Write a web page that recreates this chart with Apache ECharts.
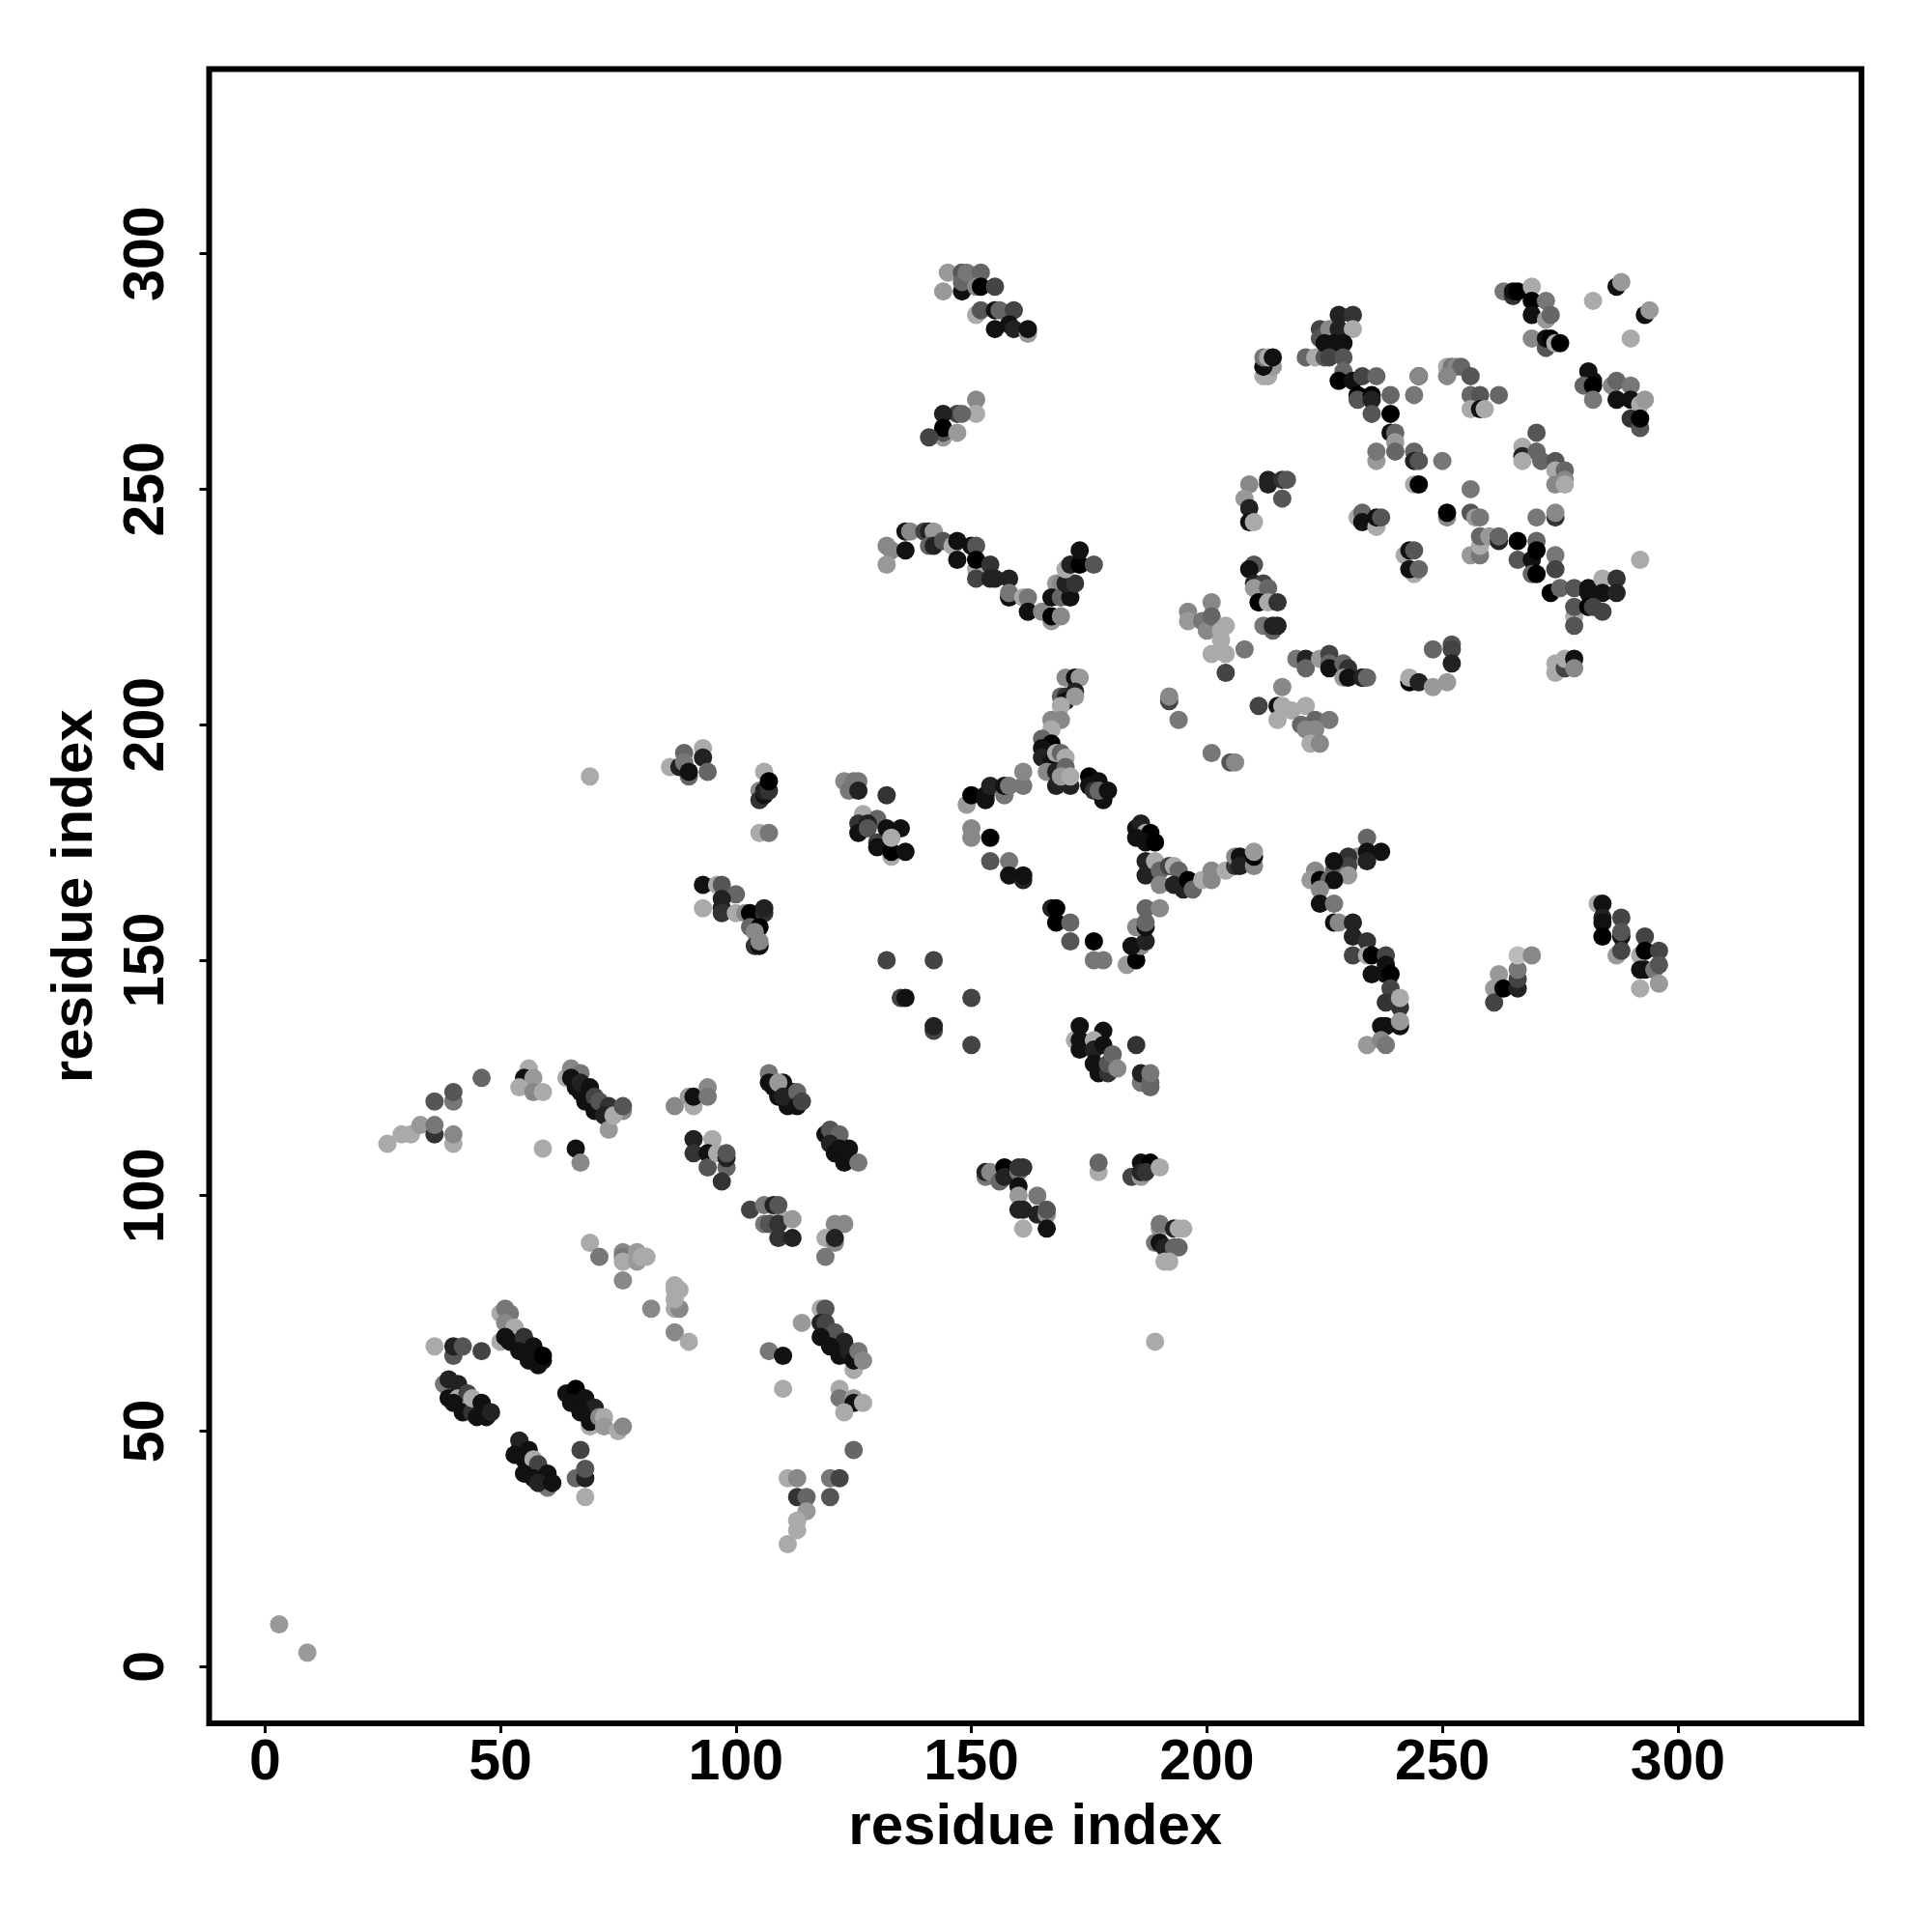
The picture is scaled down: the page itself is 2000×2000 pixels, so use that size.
<!DOCTYPE html>
<html><head><meta charset="utf-8">
<style>html,body{margin:0;padding:0;background:#fff}#c{width:2000px;height:2000px}</style>
<script src="https://cdn.jsdelivr.net/npm/echarts@6/dist/echarts.min.js"></script>
</head><body><div id="c"></div>
<script>
// each triple: residue i, residue j, shade level (0 = black ... 11 = light grey)
const tickValues = [0, 50, 100, 150, 200, 250, 300];
const axisTitle = 'residue index';
const denseStrands = [[52,71,1],[53,70,1],[54,69,1],[55,68,1],[56,67,1],[57,66,1],[58,65,1],[59,65,1],[39,59,1],[40,58,1],[41,56,1],[42,56,1],[43,55,1],[44,55,1],[45,55,1],[46,54,1],[65,58,1],[66,57,1],[67,56,1],[68,55,1],[69,54,1],[70,53,1],[54,46,1],[55,46,1],[55,44,1],[56,43,1],[57,42,1],[58,41,1],[59,40,1],[66,125,1],[67,122,1],[68,122,1],[69,121,1],[70,120,1],[71,118,1],[72,118,1],[108,123,1],[109,122,1],[110,122,1],[111,121,1],[112,122,1],[111,119,1],[120,112,1],[121,112,1],[122,111,1],[123,109,1],[119,72,1],[120,70,1],[121,69,1],[122,68,1],[123,67,1],[124,66,1]];
const isolated = [[3,9,9],[9,3,9],[69,189,10],[189,69,10],[292,235,10]];
const arcLeft = [[26,111,10],[29,113,10],[31,113,10],[33,115,9],[36,113,3],[36,115,7],[36,120,5],[40,111,10],[40,113,8],[40,120,7],[40,122,5],[46,125,6],[56,127,10],[55,125,1],[57,125,9],[54,123,10],[57,122,8],[59,122,10],[59,110,10],[66,110,1],[67,107,8]];
const strand64 = [[64,125,10],[65,127,8],[67,126,7],[65,125,1],[66,123,1],[67,124,2],[69,123,1],[68,120,1],[70,121,4],[70,118,1],[71,120,5],[76,118,8],[73,119,3],[72,117,2],[73,114,9],[74,117,10],[76,119,5]];
const group90 = [[87,119,8],[90,121,9],[91,119,10],[91,121,1],[94,123,8],[94,121,7],[91,112,2],[95,112,10],[91,109,3],[94,109,1],[94,106,5],[98,106,6],[97,103,3],[96,109,10],[98,108,2],[98,109,5]];
const strand106 = [[107,126,7],[107,124,1],[110,124,1],[109,121,1],[109,124,9],[112,120,1],[110,121,2],[113,122,6],[113,119,1],[114,120,4],[119,113,1],[120,114,5],[122,113,6],[120,111,2],[121,109,1],[122,110,1],[124,110,1],[123,107,1],[126,107,7]];
const group100 = [[103,97,4],[106,98,7],[109,96,10],[108,98,2],[109,98,5],[106,94,7],[107,94,5],[109,94,3],[112,95,9],[109,91,3],[112,91,2],[121,94,8],[123,94,8],[119,91,10],[121,90,8],[121,91,2],[119,87,7]];
const centreGrey = [[69,90,10],[71,87,7],[76,88,8],[76,87,7],[76,86,10],[76,82,8],[79,88,9],[79,86,9],[80,87,10],[81,87,10],[82,76,8],[87,81,10],[87,80,10],[88,80,10],[87,76,10],[88,76,8],[87,78,10],[87,71,8],[90,69,10]];
const strand50 = [[50,75,10],[51,76,7],[52,75,7],[51,73,8],[53,72,10],[50,69,10],[51,70,1],[52,69,1],[55,70,3],[54,67,1],[57,68,1],[56,65,1],[58,64,1],[59,66,0],[36,68,10],[40,66,5],[40,68,2],[42,68,5],[46,67,4]];
const strand38 = [[38,60,7],[39,61,2],[41,60,2],[39,57,1],[41,57,10],[43,58,4],[40,56,1],[42,54,1],[44,54,3],[44,57,10],[46,56,1],[45,53,1],[47,53,1],[48,54,2]];
const strand64low = [[64,58,1],[66,59,0],[68,57,1],[65,56,1],[70,55,2],[67,54,1],[69,51,10],[69,52,1],[71,53,8],[72,53,10],[72,51,9],[75,50,10],[76,51,8]];
const strand54 = [[54,48,2],[53,45,1],[56,46,1],[57,44,10],[58,43,4],[55,41,1],[57,40,1],[60,38,7],[60,41,1],[58,39,2],[61,39,1],[67,46,4],[66,40,6],[68,40,2],[68,42,5],[68,36,10]];
const strand115 = [[107,67,7],[110,66,1],[110,59,10],[114,73,9],[118,76,10],[119,76,5],[118,73,2],[119,73,4],[121,71,5],[118,70,1],[123,69,2],[120,68,1],[122,66,1],[124,67,2],[125,63,10],[125,65,1],[126,67,7],[127,65,8]];
const tail120 = [[122,59,10],[122,57,7],[125,57,9],[125,56,1],[127,56,10],[123,54,10],[125,46,6],[111,40,10],[113,40,8],[120,40,7],[122,40,4],[113,36,3],[115,36,6],[120,36,5],[115,33,9],[113,31,10],[113,29,10],[111,26,10]];
const scatter135 = [[132,150,4],[142,150,4],[135,142,4],[136,142,1],[150,142,4],[142,135,4],[142,136,2],[150,132,4]];
const group175 = [[172,133,10],[173,136,1],[178,135,1],[173,133,1],[173,131,1],[176,133,10],[176,131,2],[178,132,1],[176,128,1],[177,126,1],[179,126,3],[179,128,5],[180,130,6],[181,127,8],[185,132,3],[186,124,7],[188,123,6],[186,126,2],[188,124,6],[188,126,7]];
const group155 = [[153,104,7],[153,105,2],[154,105,8],[156,103,6],[157,106,0],[157,104,2],[160,105,7],[160,106,3],[161,106,3],[160,102,1],[160,100,9],[164,100,7],[160,97,2],[161,97,2],[164,96,2],[166,96,8],[166,97,5],[161,93,10],[166,93,1]];
const group185 = [[177,105,10],[177,107,6],[184,104,4],[186,104,9],[186,107,1],[186,105,2],[188,107,0],[187,105,3],[190,106,10],[190,93,9],[190,94,7],[193,93,2],[194,93,10],[195,93,10],[189,90,7],[190,90,1],[191,89,2],[193,89,6],[194,89,6],[191,86,10],[192,86,10]];
const group88 = [[86,191,10],[89,194,6],[88,191,2],[89,192,7],[90,189,6],[90,190,1],[93,195,10],[93,193,2],[94,190,6],[106,190,10],[105,186,8],[105,184,3],[106,185,1],[106,186,2],[107,186,3],[107,188,0],[105,177,10],[107,177,7]];
const group95 = [[93,166,1],[96,166,10],[97,166,5],[100,164,6],[97,163,2],[93,161,10],[97,161,2],[97,160,3],[100,160,10],[102,160,8],[103,160,0],[106,160,3],[106,161,2],[103,157,6],[105,157,0],[104,156,8],[104,153,3],[105,153,1],[105,154,8]];
const group125 = [[123,188,8],[125,188,7],[126,188,7],[124,186,7],[126,186,2],[132,185,3],[127,181,10],[126,179,3],[130,180,6],[128,179,2],[126,177,1],[128,178,5],[130,175,4],[132,178,1],[135,178,1],[130,174,1],[133,172,10],[133,173,0],[133,176,10],[136,173,1]];
const loopLeft = [[150,178,8],[150,176,8],[154,176,0],[154,171,5],[158,171,7],[158,168,1],[161,167,2],[161,168,1],[167,161,2],[168,161,0],[168,158,0],[171,158,6],[171,154,5],[176,154,0],[176,150,7],[178,150,7],[183,149,9],[185,150,0],[186,153,8],[184,153,1],[187,154,2],[185,157,8],[187,157,1],[187,158,6],[187,161,6],[190,161,8]];
const loopTop = [[149,183,9],[150,185,0],[153,184,1],[153,185,1],[154,187,2],[157,185,7],[157,187,1],[158,187,7],[161,187,7],[161,190,8]];
const stem170 = [[170,210,8],[172,210,1],[173,210,9],[169,206,6],[170,206,3],[172,207,2],[170,205,1],[172,206,9],[169,204,10],[167,201,8],[169,201,8],[167,199,10],[165,197,6],[167,196,0],[165,195,1],[165,193,2],[167,192,1],[168,194,10],[169,194,6],[170,193,10],[166,190,8],[168,190,2],[168,187,2],[171,187,2],[170,191,6],[169,189,9],[171,189,10]];
const strand177 = [[175,189,0],[177,188,1],[175,187,1],[176,186,3],[178,184,1],[177,186,6],[179,186,1],[185,178,1],[186,179,2],[187,177,10],[188,177,0],[185,176,1],[187,175,1],[189,175,0]];
const row190 = [[187,171,2],[187,168,2],[189,171,10],[190,169,6],[190,166,8],[192,170,4],[193,170,10],[194,169,6],[193,166,2],[195,165,2],[196,167,0],[197,165,6],[199,167,10],[201,169,8],[201,167,8],[204,169,10],[206,170,3],[206,172,8],[207,172,1],[207,170,2],[210,170,8],[210,172,0],[210,173,9]];
const strand225 = [[234,176,6],[232,172,9],[234,173,1],[237,173,1],[234,171,2],[230,172,3],[230,170,4],[227,169,6],[227,171,1],[230,168,9],[223,169,8],[222,167,9],[224,167,0],[226,167,6],[227,167,1],[224,165,8],[224,162,1],[227,162,7],[227,158,1],[228,158,8],[231,158,2],[231,155,2],[234,154,3],[231,151,4],[234,151,10],[235,151,0],[238,151,4],[235,147,1],[238,149,1],[238,147,1],[239,147,0],[239,144,4],[238,141,3],[241,140,3],[241,142,10],[237,136,1],[238,136,1],[241,136,1],[241,137,9],[234,132,9],[237,133,8],[238,132,7]];
const group265 = [[261,144,9],[261,141,4],[262,147,9],[263,144,0],[266,144,2],[266,146,4],[266,148,7],[266,151,11],[269,151,8]];
const group290 = [[283,162,10],[284,162,1],[284,159,2],[284,158,1],[284,155,0],[288,159,4],[288,155,1],[288,156,5],[287,151,9],[288,152,4],[293,155,4],[292,151,10],[293,152,0],[296,152,4],[292,148,1],[293,148,1],[295,148,7],[296,149,5],[296,145,9],[292,144,10]];
const top150 = [[145,296,9],[144,292,9],[148,292,1],[148,296,5],[148,294,6],[149,296,7],[152,296,6],[151,293,8],[152,293,0],[155,293,4],[151,287,10],[152,288,5],[155,288,1],[156,288,6],[159,288,4],[155,284,1],[158,285,1],[159,284,2],[162,283,9],[162,284,1]];
const mid145 = [[151,269,8],[151,266,10],[147,266,4],[148,266,6],[144,266,2],[144,261,9],[144,262,5],[144,263,0],[147,262,9],[141,261,4]];
const ridge140 = [[132,238,8],[133,237,8],[132,234,9],[136,241,1],[137,241,8],[136,237,1],[140,241,4],[141,241,2],[142,241,9],[141,238,6],[142,238,2],[144,239,5],[146,238,10],[147,239,1],[147,235,1],[150,238,1],[151,238,5],[151,233,10],[151,235,0],[154,234,3],[151,231,4],[154,231,2],[155,231,2],[158,231,2],[158,227,1],[158,228,7],[161,227,10],[162,227,7],[162,224,1],[165,224,8],[167,222,9],[168,230,9],[169,230,8],[167,227,1],[167,223,0],[169,223,8],[169,227,6],[171,227,1],[170,230,2],[172,230,3],[170,233,10],[171,234,2],[173,234,0],[173,237,1],[176,234,5]];
const group213 = [[212,274,10],[213,274,10],[212,276,10],[214,276,9],[212,276,1],[212,278,7],[213,278,10],[214,278,1]];
const group225 = [[221,278,6],[223,278,10],[224,284,4],[224,282,5],[225,278,5],[226,284,8],[228,287,2],[231,287,3],[228,284,2],[231,284,10],[225,281,1],[227,281,1],[229,281,1],[226,278,4],[229,278,5],[229,275,6],[228,273,0],[231,273,1],[233,274,4],[232,270,0],[232,269,5],[235,270,0],[236,274,6],[235,269,2],[235,266,5],[239,270,6],[239,266,0]];
const group240 = [[239,262,1],[240,262,6],[240,260,9],[240,258,6],[236,256,9],[236,258,7],[244,258,6],[244,256,2],[245,256,5],[250,256,7],[244,251,10],[245,251,0],[245,274,3],[245,274,8],[244,270,7]];
const group255 = [[251,276,10],[252,276,7],[253,276,8],[254,276,6],[251,274,8],[256,274,5],[256,270,6],[258,270,5],[262,270,6],[256,267,10],[258,267,1],[259,267,10],[256,250,7],[251,244,8],[251,245,0],[256,245,5],[257,244,9],[258,244,7]];
const band260 = [[256,236,9],[258,236,7],[258,238,10],[258,240,6],[260,240,9],[262,239,2],[262,240,6],[266,239,0],[266,235,5],[270,239,6],[270,244,7],[274,244,3],[274,245,8]];
const group270 = [[270,262,5],[267,259,10],[267,257,2],[270,258,6],[267,256,10],[271,256,6],[274,256,5],[274,254,10],[276,254,6],[274,251,8],[276,252,8],[276,251,10]];
const group280 = [[269,235,1],[270,237,0],[274,236,7],[269,232,6],[270,232,0],[274,233,4],[273,228,0],[275,229,6],[278,229,5],[281,229,1],[281,228,1],[284,231,10],[287,231,3],[284,228,1],[287,228,2],[278,223,10],[278,221,5],[278,225,5],[281,225,0],[282,225,4],[284,224,4]];
const topRight = [[263,292,7],[265,291,3],[265,292,1],[266,292,0],[269,293,10],[269,290,0],[272,290,7],[269,287,1],[272,286,9],[273,287,6],[269,282,8],[272,280,5],[272,282,1],[273,282,0],[274,281,10],[275,281,0],[282,290,10],[287,293,1],[288,294,9],[293,287,1],[294,288,9],[290,282,10]];
const right285 = [[281,275,1],[282,273,1],[280,272,6],[282,272,0],[282,269,7],[286,272,8],[287,273,6],[290,272,7],[287,269,1],[290,269,1],[292,268,10],[293,269,9],[290,265,3],[292,263,5],[292,265,0]];
const group210 = [[210,234,5],[209,233,1],[210,230,2],[212,230,4],[210,229,9],[213,229,6],[211,226,5],[211,226,0],[213,226,10],[215,226,3],[212,221,7],[214,220,6],[214,221,2],[215,221,2],[209,251,8],[208,248,9],[209,246,2],[209,243,1],[210,243,10],[213,252,2],[213,251,2],[216,252,3],[217,252,5],[216,248,5]];
const group200 = [[196,224,8],[196,222,9],[199,222,7],[200,220,8],[201,226,8],[201,223,6],[204,221,10],[203,220,10],[203,218,10],[201,215,10],[204,215,10],[204,211,4],[208,216,7],[216,208,8],[192,205,4],[192,206,8],[194,201,7],[201,194,7],[205,192,5],[206,192,8]];
const group220 = [[211,204,4],[215,204,1],[216,204,10],[215,201,10],[218,203,10],[221,204,10],[220,200,6],[223,201,6],[226,201,7],[221,199,8],[223,199,8],[222,196,10],[224,196,8]];
const group228 = [[219,214,7],[221,214,2],[221,212,6],[224,214,9],[226,215,4],[226,213,6],[226,212,1],[229,213,6],[230,212,3],[229,210,9],[230,210,1],[233,210,1],[233,210,2],[234,210,6]];
const group245 = [[248,216,6],[252,217,5],[252,216,4],[252,213,2],[251,209,9],[243,209,0],[243,210,10],[245,209,2],[248,208,9],[274,211,10],[274,213,10],[276,212,10],[276,212,4],[276,214,10],[278,214,1],[278,212,8],[232,244,10],[233,245,6],[233,243,1],[236,242,10],[236,244,1],[237,244,5],[242,236,10],[243,237,1],[244,237,5],[244,232,10],[243,233,1],[245,233,6]];

const allPoints = [denseStrands,isolated,arcLeft,strand64,group90,strand106,group100,centreGrey,strand50,strand38,strand64low,strand54,strand115,tail120,scatter135,group175,group155,group185,group88,group95,group125,loopLeft,loopTop,stem170,strand177,row190,strand225,group265,group290,top150,mid145,ridge140,group213,group225,group240,group255,band260,group270,group280,topRight,right285,group210,group200,group220,group228,group245].flat();

const font = '"Liberation Sans", Arial, sans-serif';
const chart = echarts.init(document.getElementById('c'), null, {renderer:'canvas'});
function axis(pos){
  const isY = pos === 'left';
  return {
    type:'value', position:pos,
    min: isY ? -12.04 : -11.86, max: isY ? 339.2 : 339,
    name: axisTitle, nameLocation:'middle', nameRotate: isY ? 90 : 0,
    nameGap: isY ? 108 : 78,
    nameTextStyle:{fontFamily:font,fontWeight:'bold',fontSize:60,color:'#000'},
    axisLine:{show:false,onZero:false},
    axisTick:{show:true,length:10,inside:false,customValues:tickValues,lineStyle:{color:'#000',width:3}},
    axisLabel:{show:true,rotate:isY?90:0,margin:isY?34:12,customValues:tickValues,fontFamily:font,fontWeight:'bold',fontSize:59,color:'#000'},
    splitLine:{show:false}
  };
}
chart.setOption({
  animation:false, backgroundColor:'#fff',
  grid:{left:216.5,top:71.5,width:1710.5,height:1712.5,show:true,borderColor:'#000',borderWidth:6,backgroundColor:'transparent',containLabel:false},
  xAxis:axis('bottom'), yAxis:axis('left'),
  series:[{type:'scatter',data:allPoints,symbol:'circle',symbolSize:19,clip:true,large:false,
    encode:{x:0,y:1},
    itemStyle:{opacity:1,color:p=>{const v=17*p.value[2];return 'rgb('+v+','+v+','+v+')';}}}]
});
</script></body></html>
